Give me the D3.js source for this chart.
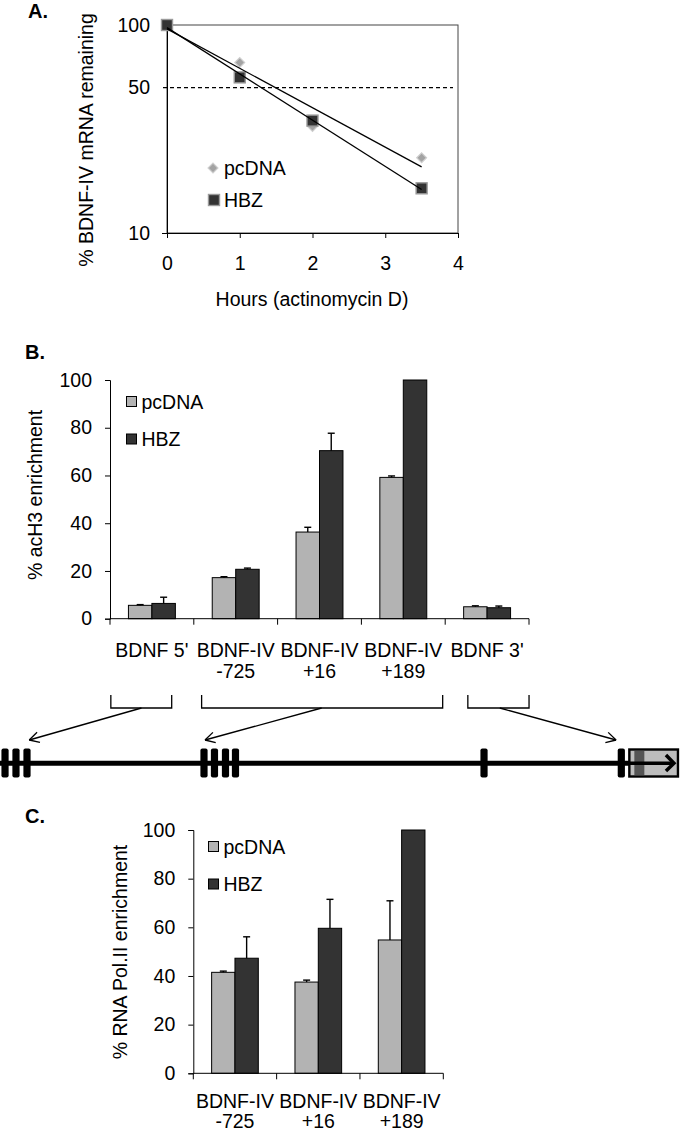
<!DOCTYPE html>
<html lang="en">
<head>
<meta charset="UTF-8">
<title>BDNF-IV mRNA stability and ChIP</title>
<script src="https://d3js.org/d3.v7.min.js"></script>
<style>
  body { margin: 0; background: #fff; }
  svg text { font-family: "Liberation Sans", Arial, sans-serif; font-size: 19.5px; fill: #000; }
</style>
</head>
<body>
<svg id="fig" width="680" height="1134"></svg>
<script>
// ---- panel A: mRNA decay after actinomycin D ----
const hours = [0, 1, 2, 3.5];
const decayPcDNA = [100, 66, 32.5, 23];
const decayHBZ = [100, 56, 34.7, 16.4];
const hourTicks = [0, 1, 2, 3, 4];
const logTicks = [10, 50, 100];

// ---- panel B: acH3 ChIP ----
const regionsB = ["BDNF 5'", "BDNF-IV\n-725", "BDNF-IV\n+16", "BDNF-IV\n+189", "BDNF 3'"];
const acH3PcDNA = [5.6, 17.2, 36.3, 59.2, 5.0];
const acH3PcDNAErr = [0.3, 0.4, 2.0, 0.6, 0.4];
const acH3HBZ = [6.4, 20.7, 70.4, 100, 4.6];
const acH3HBZErr = [2.6, 0.5, 7.3, 0, 0.7];

// ---- panel C: RNA Pol II ChIP ----
const regionsC = ["BDNF-IV\n-725", "BDNF-IV\n+16", "BDNF-IV\n+189"];
const polPcDNA = [41.5, 37.5, 54.8];
const polPcDNAErr = [0.5, 0.8, 16.1];
const polHBZ = [47.3, 59.6, 100];
const polHBZErr = [8.8, 11.9, 0];
const pctTicks = [0, 20, 40, 60, 80, 100];

// ---- gene schematic (0-100 along the locus) ----
const exons = [0.74, 2.35, 3.97, 30.0, 31.54, 33.16, 34.63, 71.18, 91.37];
const lastExon = [92.55, 99.7];
const brackets = [[16.3, 25.25, 20.8, 4.3], [29.65, 65.1, 47.3, 30.15], [68.8, 77.8, 73.5, 90.6]]; // from, to, middle, arrow target

const seriesNames = ["pcDNA", "HBZ"];
const barColors = ["#b3b3b3", "#333"];

const svg = d3.select("#fig");

function label(g, x, y, str, anchor, lineH) {
  const t = g.append("text").attr("x", x).attr("y", y).attr("text-anchor", anchor || "start");
  str.split("\n").forEach((s, i) => {
    t.append("tspan").attr("x", x).attr("dy", i ? (lineH || 21) : 0).text(s);
  });
  return t;
}

function yTitle(x, y, str) {
  svg.append("text").attr("transform", `translate(${x},${y}) rotate(-90)`)
    .attr("text-anchor", "middle").text(str);
}

// ===================== A =====================
{
  const x = d3.scaleLinear().domain([0, 4]).range([167, 458]);
  const y = d3.scaleLog().domain([10, 100]).range([233, 25]);
  const g = svg.append("g");

  svg.append("text").attr("x", 28).attr("y", 18).attr("font-weight", "bold").style("font-size", "20px").text("A.");

  // frame
  g.append("rect").attr("x", x(0)).attr("y", y(100)).attr("width", x(4) - x(0)).attr("height", y(10) - y(100))
    .attr("fill", "none").attr("stroke", "#444").attr("stroke-width", 1);

  const ax = g.append("g").attr("transform", `translate(0,${y(10)})`)
    .call(d3.axisBottom(x).tickValues(hourTicks).tickSize(5).tickPadding(18).tickFormat(d3.format("d")));
  const ay = g.append("g").attr("transform", `translate(${x(0)},0)`)
    .call(d3.axisLeft(y).tickValues(logTicks).tickSize(5).tickPadding(12).tickFormat(d3.format("d")));
  [ax, ay].forEach(a => {
    a.selectAll("text").style("font-size", "19.5px").style("font-family", "Liberation Sans, Arial, sans-serif");
    a.selectAll("path, line").attr("stroke", "#000");
  });
  ay.selectAll(".tick").filter(d => d === 50).select("line").remove();

  // half-life reference
  g.append("line").attr("x1", x(0) - 4).attr("x2", x(4) - 5).attr("y1", y(50)).attr("y2", y(50))
    .attr("stroke", "#000").attr("stroke-width", 1.3).attr("stroke-dasharray", "4,3");

  // markers
  const diamond = d3.symbol().type(d3.symbolDiamond2).size(62);
  g.selectAll(".pc").data(hours).join("path")
    .attr("transform", (d, i) => `translate(${x(d)},${y(decayPcDNA[i])})`)
    .attr("d", diamond).attr("fill", "#a3a3a3").attr("stroke", "#cfcfcf").attr("stroke-width", 1.2);
  g.selectAll(".hb").data(hours).join("rect")
    .attr("x", d => x(d) - 5.5).attr("y", (d, i) => y(decayHBZ[i]) - 5.5)
    .attr("width", 11).attr("height", 11)
    .attr("fill", "#333").attr("stroke", "#9a9a9a").attr("stroke-width", 1.4);

  // exponential trend lines (least squares on log10)
  function fit(vals) {
    const ly = vals.map(v => Math.log10(v));
    const mx = d3.mean(hours), my = d3.mean(ly);
    const sxy = d3.sum(hours, (h, i) => (h - mx) * (ly[i] - my));
    const sxx = d3.sum(hours, h => (h - mx) * (h - mx));
    const b = sxy / sxx, a = my - b * mx;
    return h => Math.pow(10, a + b * h);
  }
  [decayPcDNA, decayHBZ].forEach(vals => {
    const f = fit(vals);
    g.append("line").attr("x1", x(0)).attr("y1", y(f(0))).attr("x2", x(3.5)).attr("y2", y(f(3.5)))
      .attr("stroke", "#000").attr("stroke-width", 1.3);
  });

  // legend
  g.append("path").attr("transform", `translate(213,168)`).attr("d", diamond)
    .attr("fill", "#a3a3a3").attr("stroke", "#cfcfcf").attr("stroke-width", 1.2);
  g.append("rect").attr("x", 208.5).attr("y", 194.5).attr("width", 11).attr("height", 11)
    .attr("fill", "#333").attr("stroke", "#9a9a9a").attr("stroke-width", 1.4);
  label(g, 224, 175, "pcDNA");
  label(g, 224, 207, "HBZ");

  label(g, 312, 306, "Hours (actinomycin D)", "middle");
  yTitle(93, 140, "% BDNF-IV mRNA remaining");
}

// ===================== bar panels =====================
function barPanel(opt) {
  const { cats, vals, errs, left, right, top, bottom } = opt;
  const y = d3.scaleLinear().domain([0, 100]).range([bottom, top]);
  const x0 = d3.scaleBand().domain(cats).range([left, right]).paddingInner(0.44).paddingOuter(0.22);
  const x1 = d3.scaleBand().domain(seriesNames).range([0, x0.bandwidth()]);
  const g = svg.append("g");

  const ay = g.append("g").attr("transform", `translate(${left},0)`)
    .call(d3.axisLeft(y).tickValues(pctTicks).tickSize(5).tickPadding(13));
  ay.select(".domain").attr("stroke", "#000");
  ay.selectAll("text").style("font-size", "19.5px").style("font-family", "Liberation Sans, Arial, sans-serif");

  const groups = g.selectAll(".grp").data(cats).join("g")
    .attr("transform", d => `translate(${x0(d)},0)`);
  seriesNames.forEach((s, k) => {
    groups.append("rect")
      .attr("x", x1(s)).attr("width", x1.bandwidth())
      .attr("y", (d, i) => y(vals[k][i])).attr("height", (d, i) => bottom - y(vals[k][i]))
      .attr("fill", barColors[k]).attr("stroke", "#000").attr("stroke-width", 1);
    groups.each(function (d, i) {
      const e = errs[k][i];
      if (!e) return;
      const cx = x1(s) + x1.bandwidth() / 2;
      const sel = d3.select(this);
      sel.append("line").attr("x1", cx).attr("x2", cx).attr("y1", y(vals[k][i])).attr("y2", y(vals[k][i] + e))
        .attr("stroke", "#000").attr("stroke-width", 1.4);
      sel.append("line").attr("x1", cx - 3.5).attr("x2", cx + 3.5).attr("y1", y(vals[k][i] + e)).attr("y2", y(vals[k][i] + e))
        .attr("stroke", "#000").attr("stroke-width", 1.4);
    });
  });

  // category axis with ticks between groups
  g.append("line").attr("x1", left).attr("x2", right).attr("y1", bottom).attr("y2", bottom).attr("stroke", "#000");
  d3.range(cats.length + 1).forEach(i => {
    const tx = left + i * x0.step();
    g.append("line").attr("x1", tx).attr("x2", tx).attr("y1", bottom).attr("y2", bottom + 6).attr("stroke", "#000");
  });
  cats.forEach(c => label(g, x0(c) + x0.bandwidth() / 2, bottom + opt.labelDy, c, "middle", opt.lineH));

  // legend
  seriesNames.forEach((s, k) => {
    const ly = opt.legendY + k * 37.5;
    g.append("rect").attr("x", opt.legendX).attr("y", ly - 5).attr("width", 10).attr("height", 10)
      .attr("fill", barColors[k]).attr("stroke", "#000").attr("stroke-width", 1);
    label(g, opt.legendX + 15, ly + 7, s);
  });
}

// ===================== B =====================
svg.append("text").attr("x", 25).attr("y", 359).attr("font-weight", "bold").style("font-size", "20px").text("B.");
barPanel({
  cats: regionsB, vals: [acH3PcDNA, acH3HBZ], errs: [acH3PcDNAErr, acH3HBZErr],
  left: 110, right: 529, top: 380, bottom: 618.7, legendX: 126.5, legendY: 401.5, labelDy: 38, lineH: 21
});
yTitle(42, 495, "% acH3 enrichment");

// ===================== gene schematic =====================
{
  const gx = d3.scaleLinear().domain([0, 100]).range([0, 680]);
  const g = svg.append("g");
  const lineY = 763.3;
  g.append("line").attr("x1", 0).attr("x2", gx(lastExon[0])).attr("y1", lineY).attr("y2", lineY)
    .attr("stroke", "#000").attr("stroke-width", 5);
  g.selectAll(".exon").data(exons).join("rect")
    .attr("x", d => gx(d) - 3.6).attr("y", 748.5).attr("width", 7.2).attr("height", 29).attr("rx", 2)
    .attr("fill", "#000");

  // last exon with coding box and direction arrow
  const bx0 = gx(lastExon[0]), bx1 = gx(lastExon[1]);
  g.append("rect").attr("x", bx0).attr("y", 749.5).attr("width", bx1 - bx0).attr("height", 27)
    .attr("fill", "#bdbdbd").attr("stroke", "#000").attr("stroke-width", 2.4);
  g.append("rect").attr("x", bx0 + 5).attr("y", 751).attr("width", 10).attr("height", 24).attr("fill", "#555");
  g.append("line").attr("x1", bx0).attr("x2", bx1 - 4).attr("y1", lineY).attr("y2", lineY)
    .attr("stroke", "#000").attr("stroke-width", 3.5);
  g.append("path").attr("d", `M${bx1 - 12},755 L${bx1 - 4},${lineY} L${bx1 - 12},771`)
    .attr("fill", "none").attr("stroke", "#000").attr("stroke-width", 3.5);

  brackets.forEach(([a, b, m, t]) => {
    g.append("path").attr("d", `M${gx(a)},695 V708 H${gx(b)} V695`)
      .attr("fill", "none").attr("stroke", "#000").attr("stroke-width", 1.3);
    const sx = gx(m), sy = 708, ex = gx(t), ey = 740;
    g.append("line").attr("x1", sx).attr("y1", sy).attr("x2", ex).attr("y2", ey)
      .attr("stroke", "#000").attr("stroke-width", 1.3);
    const ang = Math.atan2(ey - sy, ex - sx);
    [-0.5, 0.5].forEach(da => {
      g.append("line").attr("x1", ex).attr("y1", ey)
        .attr("x2", ex - 11 * Math.cos(ang + da)).attr("y2", ey - 11 * Math.sin(ang + da))
        .attr("stroke", "#000").attr("stroke-width", 1.3);
    });
  });
}

// ===================== C =====================
svg.append("text").attr("x", 25).attr("y", 823).attr("font-weight", "bold").style("font-size", "20px").text("C.");
barPanel({
  cats: regionsC, vals: [polPcDNA, polHBZ], errs: [polPcDNAErr, polHBZErr],
  left: 193.3, right: 443.3, top: 830, bottom: 1073.3, legendX: 208.5, legendY: 846.5, labelDy: 35, lineH: 20
});
yTitle(126.5, 952, "% RNA Pol.II enrichment");
</script>
</body>
</html>
